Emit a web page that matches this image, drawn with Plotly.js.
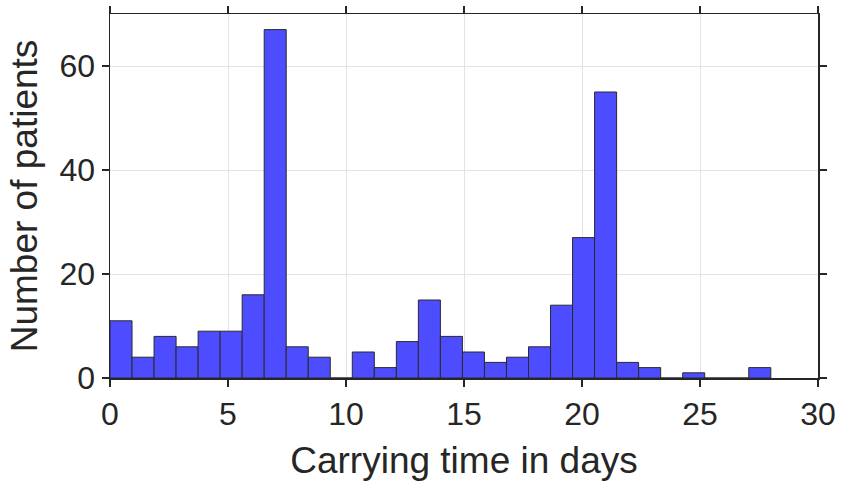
<!DOCTYPE html>
<html>
<head>
<meta charset="utf-8">
<script src="https://cdn.plot.ly/plotly-3.0.1.min.js"></script>
<style>html,body{margin:0;padding:0;background:#fff;}#chart{width:841px;height:491px;}</style>
</head>
<body>
<div id="chart"></div>
<script>
// Histogram of carrying time (days): 30 bins spanning 0..28
const binStart = 0;
const binEnd = 28;
const counts = [11, 4, 8, 6, 9, 9, 16, 67, 6, 4, 0, 5, 2, 7, 15, 8, 5, 3, 4, 6, 14, 27, 55, 3, 2, 0, 1, 0, 0, 2];
const xTickVals = [0, 5, 10, 15, 20, 25, 30];
const yTickVals = [0, 20, 40, 60];
const xTitle = "Carrying time in days";
const yTitle = "Number of patients";

const binWidth = (binEnd - binStart) / counts.length;
const centers = counts.map((_, i) => binStart + (i + 0.5) * binWidth);

const textColor = "#262626";
const font = "Liberation Sans, Arial, Helvetica, sans-serif";

const trace = {
  type: "bar",
  x: centers,
  y: counts,
  width: binWidth,
  marker: { color: "rgb(77,77,255)", line: { color: "#2a2a2a", width: 1 } },
  hoverinfo: "x+y"
};

const axisCommon = {
  showline: true, linecolor: textColor, linewidth: 1.5, mirror: "ticks",
  ticks: "outside", ticklen: 7, tickwidth: 1.5, tickcolor: textColor,
  showgrid: true, gridcolor: "#e3e3e3", gridwidth: 1, zeroline: false,
  tickfont: { family: font, size: 32, color: textColor }
};

const layout = {
  width: 841, height: 491,
  margin: { l: 110, r: 23, t: 14, b: 113, pad: 0 },
  paper_bgcolor: "#ffffff", plot_bgcolor: "#ffffff",
  showlegend: false,
  bargap: 0,
  xaxis: Object.assign({}, axisCommon, {
    range: [0, 30], tickvals: xTickVals, ticktext: xTickVals.map(String),
    title: { text: xTitle, font: { family: font, size: 37, color: textColor }, standoff: 16 }
  }),
  yaxis: Object.assign({}, axisCommon, {
    range: [0, 70], tickvals: yTickVals, ticktext: yTickVals.map(String),
    title: { text: yTitle, font: { family: font, size: 37, color: textColor }, standoff: 10 }
  })
};

Plotly.newPlot("chart", [trace], layout, { displayModeBar: false, staticPlot: true });
</script>
</body>
</html>
